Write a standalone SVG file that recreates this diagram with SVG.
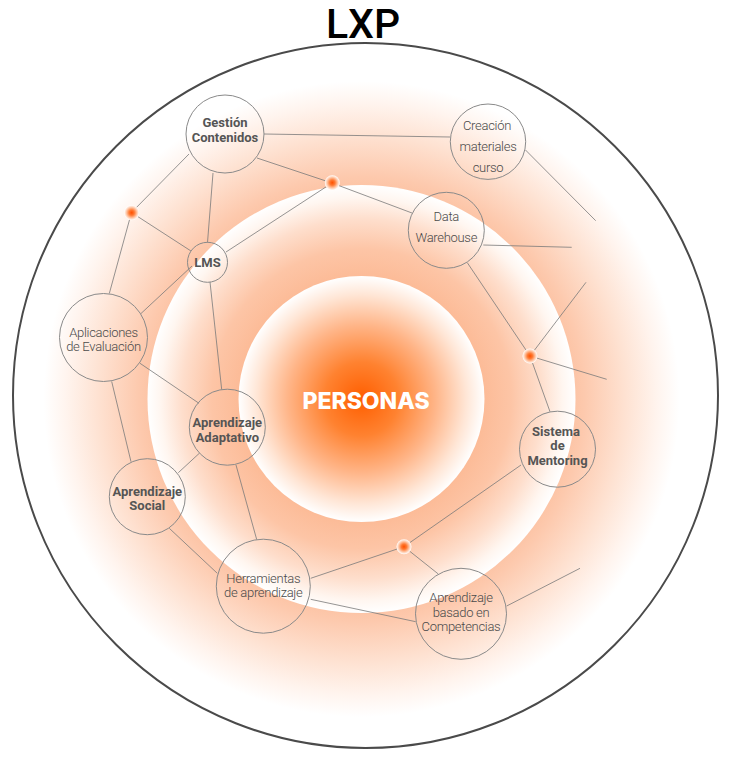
<svg xmlns="http://www.w3.org/2000/svg" width="731" height="761" viewBox="0 0 731 761">
  <defs>
    <radialGradient id="halo" cx="361.5" cy="399" r="318" gradientUnits="userSpaceOnUse">
      <stop offset="0.66" stop-color="#fcc3a4"/>
      <stop offset="0.7" stop-color="#fdc9ad"/>
      <stop offset="0.83" stop-color="#fee2d2"/>
      <stop offset="0.93" stop-color="#fff4ee"/>
      <stop offset="1" stop-color="#ffffff"/>
    </radialGradient>
    <radialGradient id="ring" cx="361.5" cy="399" r="214" gradientUnits="userSpaceOnUse">
      <stop offset="0.57" stop-color="#fcbb97"/>
      <stop offset="0.7" stop-color="#fdc5a6"/>
      <stop offset="0.84" stop-color="#fedecc"/>
      <stop offset="0.94" stop-color="#fff6f0"/>
      <stop offset="1" stop-color="#ffffff"/>
    </radialGradient>
    <radialGradient id="core" cx="361.5" cy="399" r="123" gradientUnits="userSpaceOnUse">
      <stop offset="0" stop-color="#ff5e00"/>
      <stop offset="0.3" stop-color="#ff8230"/>
      <stop offset="0.6" stop-color="#ffb588"/>
      <stop offset="0.85" stop-color="#ffe6d6"/>
      <stop offset="1" stop-color="#ffffff"/>
    </radialGradient>
    <radialGradient id="dotg">
      <stop offset="0" stop-color="#ff5000"/>
      <stop offset="0.35" stop-color="#ff7a33"/>
      <stop offset="0.75" stop-color="#ffd0b5"/>
      <stop offset="1" stop-color="#ffffff"/>
    </radialGradient>
  </defs>
  <style>
    .node { fill: none; stroke: #8a8a8a; stroke-width: 1; }
    .conn line { stroke: #7a7a7a; stroke-width: 0.8; }
    .b { font-family: Roboto, "Liberation Sans", sans-serif; font-weight: 700; font-size: 13px; fill: #555555; text-anchor: middle; }
    .l { font-family: Roboto, "Liberation Sans", sans-serif; font-weight: 300; font-size: 13px; fill: #4a4a4a; text-anchor: middle; letter-spacing: -0.3px; }
    .dot { fill: url(#dotg); }
  </style>
  <rect width="731" height="761" fill="#ffffff"/>
  <text x="363" y="38" font-family="Roboto, 'Liberation Sans', sans-serif" font-size="41" font-weight="500" fill="#000000" text-anchor="middle">LXP</text>
  <circle cx="365.5" cy="395.5" r="352.5" fill="#ffffff" stroke="#4a4a4a" stroke-width="2"/>
  <circle cx="361.5" cy="399" r="318" fill="url(#halo)"/>
  <circle cx="361.5" cy="399" r="214" fill="url(#ring)"/>
  <circle cx="361.5" cy="399" r="123" fill="url(#core)"/>
  <text x="366" y="408.5" font-family="Inter, Roboto, 'Liberation Sans', sans-serif" font-size="23" font-weight="800" fill="#ffffff" text-anchor="middle">PERSONAS</text>

  <g id="connectors" class="conn">
    <line x1="264" y1="134" x2="450" y2="137"/>
    <line x1="257" y1="158" x2="332" y2="183"/>
    <line x1="332" y1="183" x2="412" y2="213"/>
    <line x1="332" y1="183" x2="226" y2="252"/>
    <line x1="213" y1="173" x2="207.5" y2="242.5"/>
    <line x1="189" y1="154" x2="131.5" y2="212.5"/>
    <line x1="131.5" y1="212.5" x2="191" y2="251"/>
    <line x1="131.5" y1="212.5" x2="109.3" y2="293.5"/>
    <line x1="192" y1="266" x2="141" y2="313.5"/>
    <line x1="210" y1="282" x2="221.7" y2="389.5"/>
    <line x1="140" y1="363.3" x2="199" y2="403.3"/>
    <line x1="111.7" y1="381.5" x2="131" y2="461.7"/>
    <line x1="199.3" y1="453.3" x2="178.3" y2="472.7"/>
    <line x1="236" y1="465" x2="256.7" y2="539.5"/>
    <line x1="169.3" y1="528.3" x2="217.3" y2="573.3"/>
    <line x1="310.7" y1="578.3" x2="404" y2="546.7"/>
    <line x1="404" y1="546.7" x2="521" y2="465"/>
    <line x1="404" y1="546.7" x2="438.3" y2="574"/>
    <line x1="310.7" y1="599.3" x2="415.7" y2="621.7"/>
    <line x1="506.7" y1="606" x2="580" y2="568.3"/>
    <line x1="483.3" y1="245" x2="571.7" y2="247.3"/>
    <line x1="467.3" y1="262.7" x2="530" y2="356"/>
    <line x1="530" y1="356" x2="586" y2="282.3"/>
    <line x1="530" y1="356" x2="606.7" y2="379.3"/>
    <line x1="530" y1="356" x2="550" y2="411.7"/>
    <line x1="525.5" y1="150" x2="595.7" y2="220.7"/>
  </g>

  <g id="hubs">
    <circle class="dot" cx="332.3" cy="182.7" r="7.5"/>
    <circle class="dot" cx="131.7" cy="212.7" r="7.5"/>
    <circle class="dot" cx="530" cy="356" r="7.5"/>
    <circle class="dot" cx="404" cy="546.7" r="7.5"/>
  </g>

  <g id="gestion-contenidos">
    <circle class="node" cx="225" cy="134" r="39"/>
    <text class="b" x="225" y="127">Gestión</text>
    <text class="b" x="225" y="142">Contenidos</text>
  </g>
  <g id="lms">
    <circle class="node" cx="207.5" cy="262.3" r="20"/>
    <text class="b" x="207.5" y="266.8">LMS</text>
  </g>
  <g id="creacion-materiales">
    <circle class="node" cx="488" cy="141.7" r="37.7"/>
    <text class="l" x="487" y="129.5" font-size="12">Creación</text>
    <text class="l" x="488" y="150.7" font-size="12">materiales</text>
    <text class="l" x="488" y="171.7" font-size="12">curso</text>
  </g>
  <g id="data-warehouse">
    <circle class="node" cx="446.3" cy="230.3" r="38"/>
    <text class="l" x="446.3" y="220.7" font-size="12.5">Data</text>
    <text class="l" x="446.3" y="241.7" font-size="12.5">Warehouse</text>
  </g>
  <g id="sistema-mentoring">
    <circle class="node" cx="557.5" cy="449.2" r="38"/>
    <text class="b" x="556" y="436">Sistema</text>
    <text class="b" x="557.5" y="450.3">de</text>
    <text class="b" x="557.5" y="464.7">Mentoring</text>
  </g>
  <g id="aplicaciones-evaluacion">
    <circle class="node" cx="103.5" cy="337.5" r="44"/>
    <text class="l" x="103.5" y="336.7">Aplicaciones</text>
    <text class="l" x="103.5" y="350.7">de Evaluación</text>
  </g>
  <g id="aprendizaje-adaptativo">
    <circle class="node" cx="227.3" cy="427.2" r="38"/>
    <text class="b" x="227.3" y="426.7">Aprendizaje</text>
    <text class="b" x="227.3" y="441.7">Adaptativo</text>
  </g>
  <g id="aprendizaje-social">
    <circle class="node" cx="147.3" cy="496.7" r="38"/>
    <text class="b" x="147.3" y="496">Aprendizaje</text>
    <text class="b" x="147.3" y="510">Social</text>
  </g>
  <g id="herramientas-aprendizaje">
    <circle class="node" cx="263.3" cy="586.2" r="47"/>
    <text class="l" x="263.3" y="583.3">Herramientas</text>
    <text class="l" x="263.3" y="597.3">de aprendizaje</text>
  </g>
  <g id="aprendizaje-competencias">
    <circle class="node" cx="461" cy="613.8" r="45.5"/>
    <text class="l" x="461" y="602.3">Aprendizaje</text>
    <text class="l" x="461" y="616.7">basado en</text>
    <text class="l" x="461" y="631">Competencias</text>
  </g>
</svg>
